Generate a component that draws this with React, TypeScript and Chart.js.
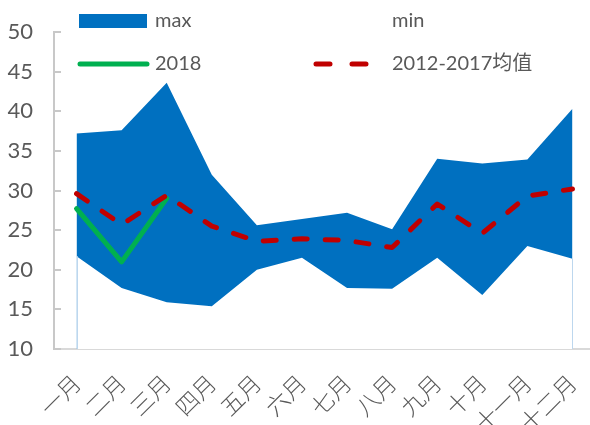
import { useEffect, useRef } from "react";
import { Chart, registerables } from "chart.js";

Chart.register(...registerables);

const months = ["一月", "二月", "三月", "四月", "五月", "六月", "七月", "八月", "九月", "十月", "十一月", "十二月"];
const maxValues = [37.2, 37.6, 43.6, 32.0, 25.6, 26.4, 27.2, 25.1, 34.0, 33.4, 33.9, 40.3];
const minValues = [21.7, 17.7, 15.9, 15.4, 20.0, 21.5, 17.7, 17.6, 21.5, 16.8, 23.0, 21.4];
const values2018: (number | null)[] = [27.7, 21.0, 29.0, null, null, null, null, null, null, null, null, null];
const avgValues = [29.6, 25.7, 29.4, 25.5, 23.6, 23.9, 23.7, 22.8, 28.3, 24.6, 29.3, 30.2];
const seriesNames = ["max", "min", "2018", "2012-2017均值"];
const yMin = 10;
const yMax = 50;
const yStep = 5;

const FONT = 'Lato, "Noto Sans CJK SC", sans-serif';
const CJK_FONT = '"Noto Sans CJK SC", sans-serif';
const TEXT = "#595959";
const BLUE = "#0070C0";
const GREEN = "#00B050";
const RED = "#C00000";
const AXIS = "#C8C8C8";

const innerTicks = {
  id: "innerTicks",
  afterDraw(chart: any) {
    const y = chart.scales.y;
    const ctx = chart.ctx;
    ctx.save();
    ctx.strokeStyle = AXIS;
    ctx.lineWidth = 2;
    y.ticks.forEach((t: any) => {
      const py = Math.round(y.getPixelForValue(t.value));
      ctx.beginPath();
      ctx.moveTo(y.right, py);
      ctx.lineTo(y.right + 7, py);
      ctx.stroke();
    });
    ctx.restore();
  },
};

const edgeLines = {
  id: "edgeLines",
  afterDatasetsDraw(chart: any) {
    const idx = chart.data.datasets.findIndex((d: any) => d.label === "min");
    const meta = chart.getDatasetMeta(idx);
    const pts = meta.data;
    if (!pts.length) return;
    const bottom = chart.scales.y.getPixelForValue(yMin);
    const ctx = chart.ctx;
    ctx.save();
    ctx.strokeStyle = "#BDD7EE";
    ctx.lineWidth = 1;
    [pts[0], pts[pts.length - 1]].forEach((p: any) => {
      const x = Math.round(p.x) + 0.5;
      ctx.beginPath();
      ctx.moveTo(x, p.y);
      ctx.lineTo(x, bottom);
      ctx.stroke();
    });
    ctx.restore();
  },
};

const customLegend = {
  id: "customLegend",
  afterDraw(chart: any) {
    const ctx = chart.ctx;
    ctx.save();
    ctx.font = `20px ${FONT}`;
    ctx.fillStyle = TEXT;
    ctx.textBaseline = "middle";
    ctx.textAlign = "left";
    const col1Swatch = 79;
    const col1Text = 155;
    const col2Swatch = 316;
    const col2Text = 392;
    const row1 = 21;
    const row2 = 64;
    ctx.fillStyle = BLUE;
    ctx.fillRect(col1Swatch, row1 - 7, 68, 14);
    ctx.strokeStyle = GREEN;
    ctx.lineWidth = 5;
    ctx.lineCap = "round";
    ctx.beginPath();
    ctx.moveTo(col1Swatch + 1, row2);
    ctx.lineTo(col1Swatch + 68, row2);
    ctx.stroke();
    ctx.strokeStyle = RED;
    ctx.setLineDash([14, 22]);
    ctx.beginPath();
    ctx.moveTo(col2Swatch, row2);
    ctx.lineTo(col2Swatch + 52, row2);
    ctx.stroke();
    ctx.setLineDash([]);
    ctx.fillStyle = TEXT;
    ctx.fillText(seriesNames[0], col1Text, row1);
    ctx.fillText(seriesNames[1], col2Text, row1);
    ctx.fillText(seriesNames[2], col1Text, row2);
    ctx.fillText(seriesNames[3], col2Text, row2);
    ctx.restore();
  },
};

export default function App() {
  const canvasRef = useRef<HTMLCanvasElement | null>(null);

  useEffect(() => {
    document.body.style.margin = "0";
    const canvas = canvasRef.current;
    if (!canvas) return;
    const chart = new Chart(canvas, {
      type: "line",
      data: {
        labels: months,
        datasets: [
          {
            label: seriesNames[3],
            data: avgValues,
            borderColor: RED,
            borderWidth: 5,
            borderDash: [13, 18],
            borderCapStyle: "round",
            borderJoinStyle: "round",
            pointRadius: 0,
            fill: false,
            tension: 0,
            order: 1,
          },
          {
            label: seriesNames[2],
            data: values2018,
            borderColor: GREEN,
            borderWidth: 5,
            borderCapStyle: "round",
            borderJoinStyle: "round",
            pointRadius: 0,
            fill: false,
            tension: 0,
            spanGaps: false,
            order: 2,
          },
          {
            label: seriesNames[1],
            data: minValues,
            borderWidth: 0,
            borderColor: "rgba(0,0,0,0)",
            backgroundColor: "#FFFFFF",
            pointRadius: 0,
            fill: "start",
            tension: 0,
            order: 3,
          },
          {
            label: seriesNames[0],
            data: maxValues,
            borderWidth: 0,
            borderColor: "rgba(0,0,0,0)",
            backgroundColor: BLUE,
            pointRadius: 0,
            fill: "start",
            tension: 0,
            order: 4,
          },
        ],
      },
      options: {
        animation: false,
        responsive: false,
        maintainAspectRatio: false,
        layout: { padding: { top: 32, right: 5, bottom: 0, left: 0 } },
        plugins: {
          legend: { display: false },
          tooltip: { enabled: false },
        },
        scales: {
          x: {
            type: "category",
            offset: true,
            grid: { display: false, drawTicks: false },
            border: { display: true, color: "#D9D9D9", width: 2 },
            ticks: {
              autoSkip: false,
              minRotation: 45,
              maxRotation: 45,
              padding: 20,
              color: TEXT,
              font: { family: CJK_FONT, size: 23, weight: 300 },
            },
            afterFit: (scale: any) => {
              scale.height = 76;
              scale.paddingLeft = 0;
              scale.paddingRight = 0;
            },
          },
          y: {
            min: yMin,
            max: yMax,
            grid: { display: false, drawTicks: false },
            border: { display: true, color: AXIS, width: 2 },
            ticks: {
              stepSize: yStep,
              padding: 21,
              color: TEXT,
              font: { family: FONT, size: 22 },
            },
            afterFit: (scale: any) => {
              scale.width = 54;
              scale.paddingTop = 0;
              scale.paddingBottom = 0;
            },
          },
        },
      },
      plugins: [edgeLines, innerTicks, customLegend],
    });
    return () => chart.destroy();
  }, []);

  return (
    <div style={{ width: 590, height: 425, overflow: "hidden", position: "relative", background: "#fff" }}>
      <canvas ref={canvasRef} width={600} height={425} style={{ display: "block" }} />
    </div>
  );
}
